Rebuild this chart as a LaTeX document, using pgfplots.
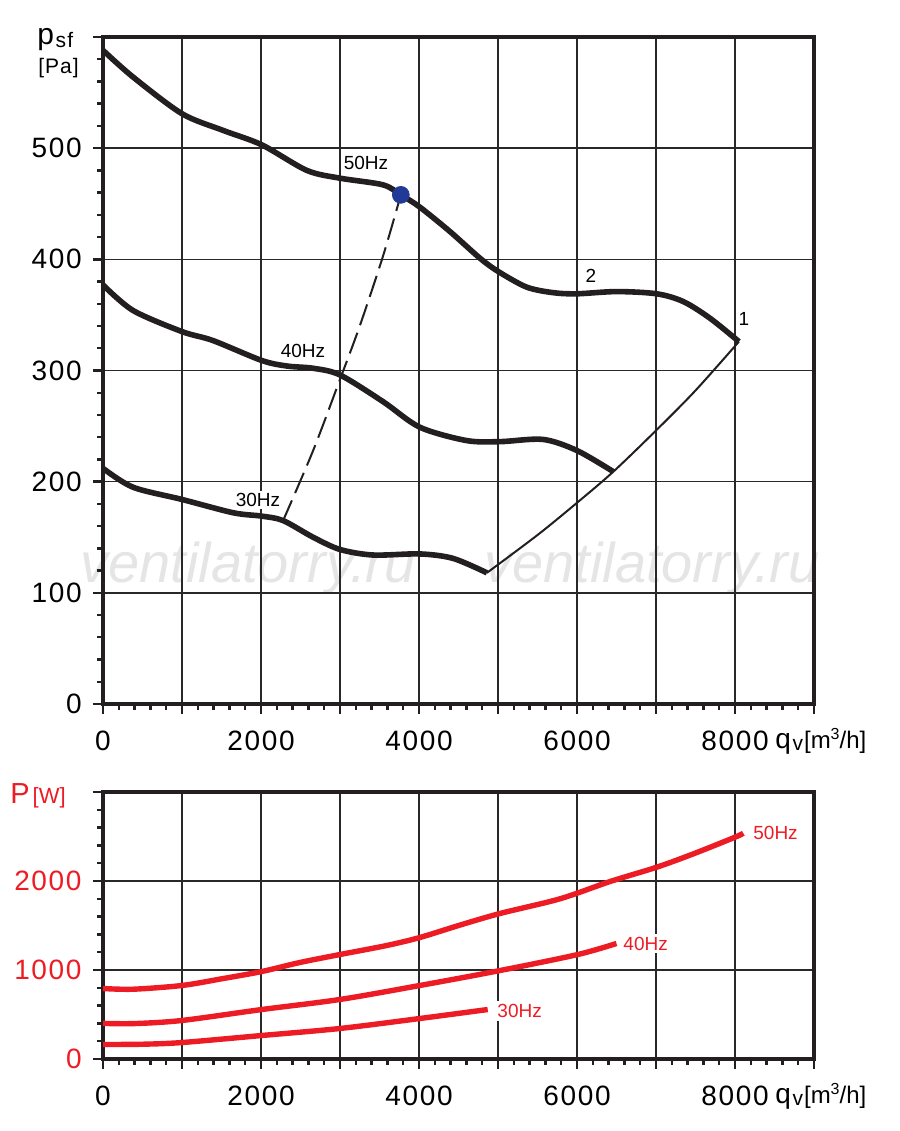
\documentclass[border=0pt]{standalone}
\usepackage{fontspec}
\setmainfont{Liberation Sans}
\newfontfamily\tickfont{Liberation Sans}[LetterSpace=6]
\usepackage{pgfplots}
\pgfplotsset{compat=1.18}
\definecolor{pred}{RGB}{237,28,36}
\definecolor{pblue}{RGB}{32,58,150}
\definecolor{gridc}{RGB}{40,40,40}
\definecolor{curve}{RGB}{35,31,32}

\pgfplotsset{
  fanstyle/.style={
    scale only axis, width=355.5pt,
    xmin=0, xmax=9000,
    xtick={0,1000,...,9000},
    xticklabels={0,,2000,,4000,,6000,,8000,},
    minor x tick num=4, minor y tick num=4,
    grid=major, major grid style={gridc, line width=0.7pt},
    axis line style={line width=1.7pt, curve},
    tick align=outside, tick pos=left,
    major tick length=5pt, minor tick length=3pt,
    every tick/.style={line width=1.2pt, curve},
    ticklabel style={font=\tickfont\fontsize{14}{14}\selectfont, inner sep=0pt},
    xticklabel style={yshift=-8.5pt},
    yticklabel style={xshift=-5.5pt},
    clip=false,
  }
}

\begin{document}
\begin{tikzpicture}
\useasboundingbox (0pt,0pt) rectangle (450pt,565.5pt);
% watermark (behind everything)
\node[anchor=base west, font=\fontsize{28}{28}\selectfont\itshape, text=black!10, inner sep=0pt] at (40pt,274pt) {ventilatorry.ru};
\node[anchor=base west, font=\fontsize{28}{28}\selectfont\itshape, text=black!10, inner sep=0pt] at (242pt,274pt) {ventilatorry.ru};

% ---------------- top: pressure ----------------
\begin{axis}[fanstyle,
  at={(51.5pt,213.5pt)}, anchor=south west, height=333.5pt,
  ymin=0, ymax=600,
  ytick={0,100,...,600}, yticklabels={0,100,200,300,400,500,},
]
\addplot[curve, line width=2.8pt, smooth, tension=0.5] coordinates {
 (0,588) (380,564) (1000,531) (1520,516) (2010,503) (2580,480) (3000,473)
 (3545,467) (3770,458) (4010,447) (4392,425) (4772,401) (5004,389) (5363,375)
 (5700,370) (6000,369) (6500,371) (7009,369) (7346,362) (7684,347) (8050,326)};
\addplot[curve, line width=2.8pt, smooth, tension=0.5] coordinates {
 (0,377) (380,354) (1000,335) (1390,327) (2010,309) (2330,304) (2660,302)
 (3000,296) (3545,272) (4010,249) (4600,237) (5025,236) (5570,238) (6000,228) (6460,209)};
\addplot[curve, line width=2.8pt, smooth, tension=0.5] coordinates {
 (0,212) (380,195) (1000,184) (1650,172) (2010,169) (2280,165) (2660,150)
 (3000,139) (3420,134) (4010,135) (4430,131) (4860,118)};
% system curve
\addplot[curve, line width=1pt, smooth] coordinates {
 (4860,118) (5500,152) (6000,181) (6460,209) (7000,246) (7500,282) (8050,326)};
% dashed affinity line
\addplot[curve, line width=1pt, smooth, dash pattern=on 11pt off 4pt] coordinates {
 (2280,165) (2660,228) (3000,292) (3250,340) (3545,403) (3770,458)};
\addplot[only marks, mark=*, mark size=4.2pt, color=pblue, fill=pblue] coordinates {(3770,458)};
\node[fill=white, inner sep=1pt, font=\fontsize{9.5}{9.5}\selectfont] at (axis cs:3329,487) {50Hz};
\node[fill=white, inner sep=1pt, font=\fontsize{9.5}{9.5}\selectfont] at (axis cs:2532,318) {40Hz};
\node[fill=white, inner sep=1pt, font=\fontsize{9.5}{9.5}\selectfont] at (axis cs:1962,183.5) {30Hz};
\node[fill=white, inner sep=1pt, font=\fontsize{9.5}{9.5}\selectfont] at (axis cs:6177,385) {2};
\node[fill=white, inner sep=1pt, font=\fontsize{9.5}{9.5}\selectfont] at (axis cs:8114,346) {1};
\end{axis}

% ---------------- bottom: power ----------------
\begin{axis}[fanstyle,
  at={(51.5pt,36pt)}, anchor=south west, height=133.5pt,
  ymin=0, ymax=3000,
  ytick={0,1000,2000,3000}, yticklabels={0,1000,2000,},
  yticklabel style={text=pred},
]
\addplot[pred, line width=2.7pt, smooth, tension=0.5] coordinates {
 (0,792) (380,784) (1000,826) (1520,904) (2010,983) (2490,1084) (3000,1174)
 (3590,1275) (4010,1365) (4520,1505) (5025,1635) (5785,1800) (6418,1994)
 (7009,2155) (7473,2305) (8000,2492) (8105,2537)};
\addplot[pred, line width=2.7pt, smooth, tension=0.5] coordinates {
 (0,400) (400,398) (1000,433) (2010,556) (3000,669) (4010,826) (5025,994)
 (6010,1174) (6500,1298)};
\addplot[pred, line width=2.7pt, smooth, tension=0.5] coordinates {
 (0,163) (500,166) (1000,185) (2010,264) (3000,343) (4010,455) (4870,556)};
\node[fill=white, inner sep=1.5pt, anchor=west, text=pred, font=\fontsize{9.5}{9.5}\selectfont] at (axis cs:8190,2545) {50Hz};
\node[fill=white, inner sep=1.5pt, anchor=west, text=pred, font=\fontsize{9.5}{9.5}\selectfont] at (axis cs:6545,1298) {40Hz};
\node[fill=white, inner sep=1.5pt, anchor=west, text=pred, font=\fontsize{9.5}{9.5}\selectfont] at (axis cs:4950,539) {30Hz};
\end{axis}

% axis titles
\node[anchor=base west, inner sep=0pt] at (18.5pt,543pt) {\fontsize{15}{15}\selectfont p\kern0.8pt\raisebox{-1.5pt}{\fontsize{10.5}{10.5}\selectfont s\kern0.6pt f}};
\node[anchor=base west, inner sep=0pt, font=\fontsize{10.5}{10.5}\selectfont] at (19pt,528.5pt) {[\kern0.5pt P\kern0.5pt a\kern0.5pt]};
\node[anchor=base west, inner sep=0pt] at (387.5pt,191pt) {\fontsize{14}{14}\selectfont q\kern0.8pt\raisebox{-1pt}{\fontsize{10.5}{10.5}\selectfont v}\kern0.5pt\fontsize{12}{12}\selectfont[m\raisebox{4.5pt}{\fontsize{8}{8}\selectfont 3}/h]};
\node[anchor=base west, inner sep=0pt] at (387.5pt,13.75pt) {\fontsize{14}{14}\selectfont q\kern0.8pt\raisebox{-1pt}{\fontsize{10.5}{10.5}\selectfont v}\kern0.5pt\fontsize{12}{12}\selectfont[m\raisebox{4.5pt}{\fontsize{8}{8}\selectfont 3}/h]};
\node[anchor=base west, inner sep=0pt, text=pred] at (5pt,163.5pt) {\fontsize{14.5}{14.5}\selectfont P\kern1.5pt\fontsize{11}{11}\selectfont[W]};
\end{tikzpicture}
\end{document}
